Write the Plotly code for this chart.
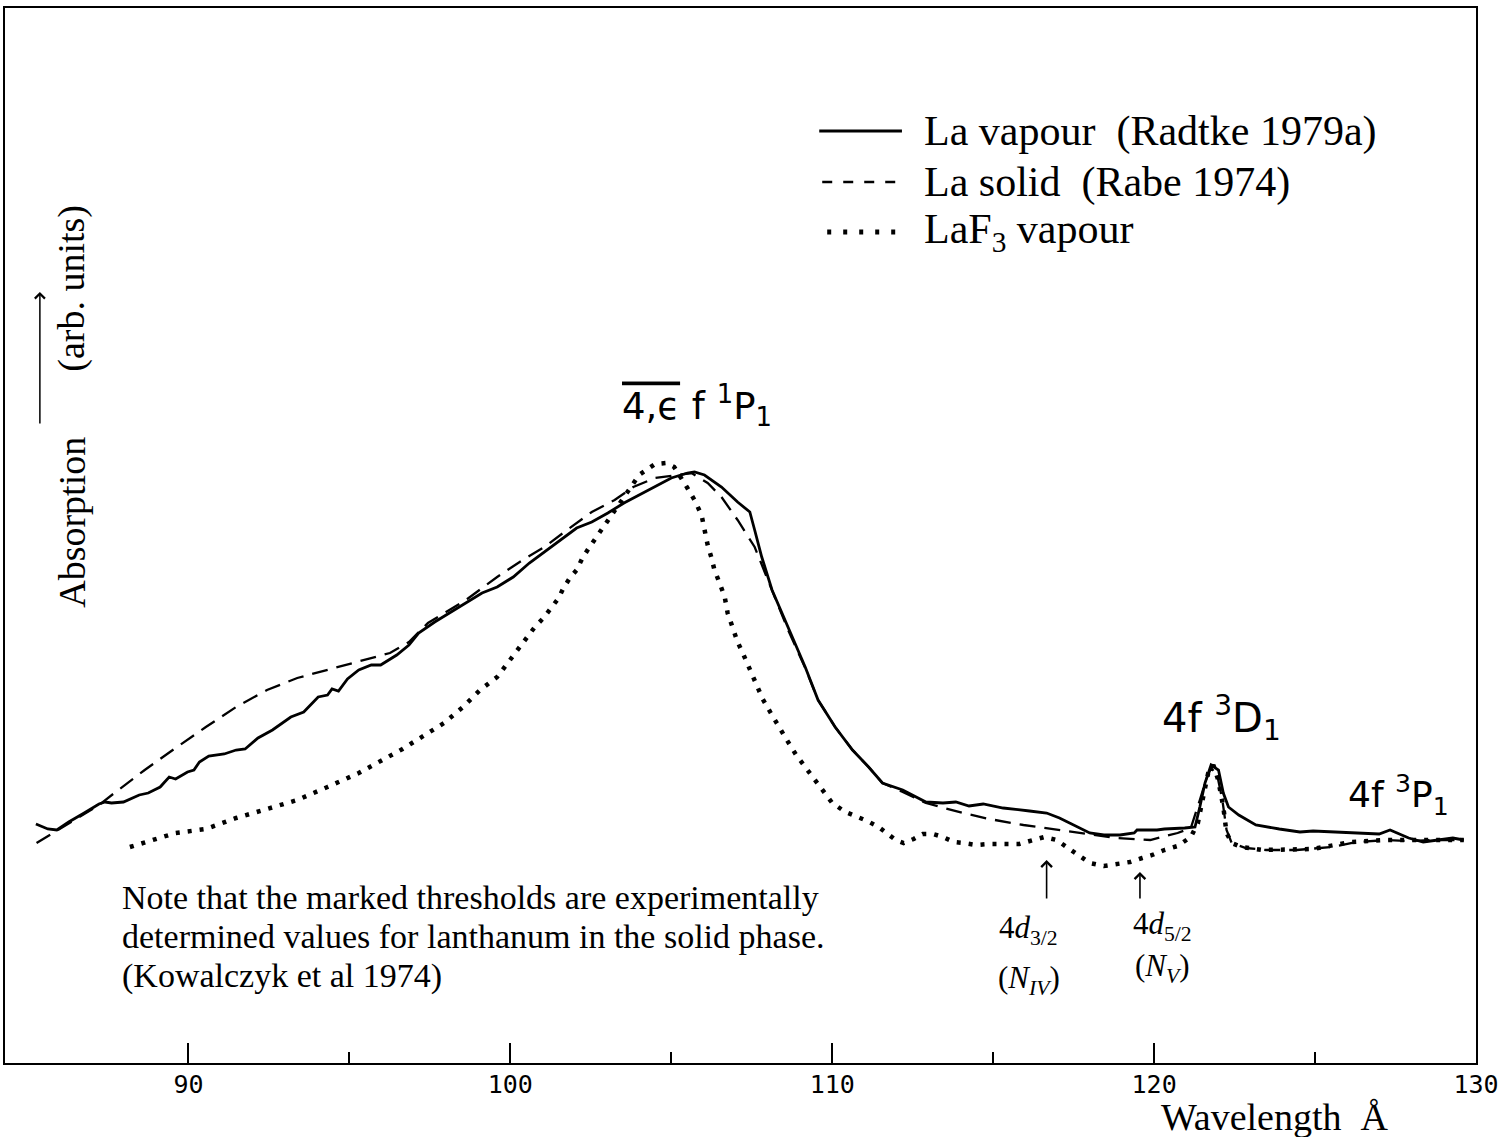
import plotly.graph_objects as go

# ---- La vapour (Radtke 1979a): wavelength (Å) and absorption (arb. units)
lam_vapour = [85.26, 85.63, 85.91, 86.28, 86.76, 87.22, 87.41, 87.61, 87.98, 88.47, 88.75, 89.12,
              89.40, 89.60, 89.97, 90.17, 90.34, 90.63, 91.11, 91.48, 91.76, 92.16, 92.61, 93.18,
              93.58, 94.03, 94.32, 94.46, 94.66, 94.94, 95.29, 95.68, 95.97, 96.47, 96.85, 97.15,
              97.65, 98.12, 98.62, 99.12, 99.59, 100.09, 100.59, 101.06, 101.56, 102.06, 102.53,
              103.03, 103.53, 104.00, 104.50, 105.00, 105.50, 105.72, 106.03, 106.56, 107.06,
              107.44, 107.59, 107.81, 108.13, 108.63, 109.16, 109.56, 110.09, 110.63, 111.13,
              111.56, 112.19, 112.91, 113.44, 113.84, 114.25, 114.69, 115.31, 116.13, 116.66,
              117.06, 117.59, 118.00, 118.44, 118.94, 119.38, 119.47, 120.09, 120.32, 120.95,
              121.27, 121.42, 121.58, 121.77, 122.00, 122.15, 122.31, 122.63, 123.16, 123.89,
              124.53, 124.94, 125.75, 126.44, 126.99, 127.33, 127.57, 127.91, 128.36, 128.84,
              129.28, 129.62]
abs_vapour = [23.9, 23.4, 23.3, 24.1, 25.0, 25.9, 26.1, 26.0, 26.1, 26.8, 27.0, 27.6,
              28.6, 28.4, 29.1, 29.3, 30.1, 30.7, 30.9, 31.3, 31.4, 32.5, 33.3, 34.6,
              35.1, 36.6, 36.8, 37.4, 37.2, 38.4, 39.3, 39.8, 39.8, 40.8, 41.8, 43.0,
              44.1, 45.0, 46.0, 47.0, 47.6, 48.6, 50.0, 51.1, 52.3, 53.5, 54.1,
              55.0, 56.0, 56.8, 57.6, 58.5, 59.0, 59.1, 58.8, 57.6, 56.1,
              55.1, 53.3, 50.6, 47.3, 43.6, 39.6, 36.3, 33.6, 31.3, 29.6,
              28.0, 27.3, 26.1, 26.0, 26.1, 25.7, 25.9, 25.5, 25.2, 25.0,
              24.5, 23.7, 23.0, 22.8, 22.8, 23.0, 23.3, 23.3, 23.4, 23.5,
              23.6, 25.6, 28.0, 29.8, 29.3, 27.0, 25.6, 24.8, 23.8, 23.4,
              23.1, 23.2, 23.1, 23.0, 22.9, 23.3, 23.0, 22.5, 22.1, 22.3,
              22.5, 22.3]

# ---- La solid (Rabe 1974)
lam_solid = [85.28, 85.80, 87.22, 87.70, 88.64, 89.60, 90.54, 91.48, 92.44, 93.38, 94.32, 95.29,
             96.26, 96.85, 97.44, 98.62, 99.59, 100.38, 101.06, 101.76, 102.53, 103.24, 103.82,
             104.50, 105.09, 105.63, 106.13, 106.56, 107.06, 107.59, 108.00, 108.63, 109.16,
             109.56, 110.09, 110.63, 111.13, 111.56, 112.19, 112.91, 114.06, 114.88, 115.94,
             116.97, 117.91, 118.84, 119.88, 120.73, 121.14, 121.42, 121.61, 121.77, 121.96,
             122.12, 122.25, 122.41, 122.85, 123.48, 124.43, 125.51, 126.30, 127.23, 127.91,
             128.70, 129.62]
abs_solid = [22.0, 23.0, 25.8, 27.0, 29.3, 31.5, 33.6, 35.6, 37.3, 38.5, 39.3, 40.1,
             41.0, 42.1, 44.0, 46.3, 48.6, 50.3, 51.6, 53.3, 55.1, 56.3, 57.6,
             58.5, 58.8, 59.0, 58.0, 56.6, 54.3, 51.6, 48.3, 43.3, 39.5,
             36.3, 33.6, 31.3, 29.6, 28.0, 27.1, 26.0, 25.0, 24.4, 23.8,
             23.3, 22.9, 22.5, 22.3, 23.0, 23.5, 26.3, 28.3, 29.5, 28.8,
             26.3, 23.3, 22.0, 21.5, 21.3, 21.3, 21.6, 22.1, 22.3, 22.2,
             22.3, 22.3]

# ---- LaF3 vapour
lam_laf3 = [88.18, 89.60, 90.54, 91.48, 92.44, 93.38, 94.32, 95.29, 96.65, 97.24, 97.94, 98.53,
            99.06, 99.59, 100.00, 100.38, 100.76, 101.03, 101.26, 101.50, 101.65, 101.85, 102.06,
            102.24, 102.44, 102.68, 102.94, 103.47, 104.00, 104.29, 104.50, 104.85, 105.09,
            105.50, 105.72, 105.94, 106.03, 106.13, 106.25, 106.34, 106.50, 106.66, 106.75,
            106.91, 107.06, 107.22, 107.44, 107.66, 107.84, 108.09, 108.34, 108.59, 108.88,
            109.16, 109.41, 109.72, 110.00, 110.41, 110.78, 111.09, 111.44, 111.75, 111.97,
            112.22, 112.53, 112.81, 113.13, 113.44, 113.78, 114.09, 114.47, 114.88, 115.31,
            115.81, 116.25, 116.59, 116.97, 117.28, 117.59, 118.00, 118.44, 118.84, 119.25,
            119.63, 119.94, 120.32, 120.73, 121.14, 121.36, 121.46, 121.58, 121.68, 121.84,
            121.99, 122.15, 122.25, 122.41, 122.72, 123.35, 123.89, 124.94, 126.10, 127.23,
            128.60, 129.62]
abs_laf3 = [21.6, 23.0, 23.4, 24.5, 25.4, 26.3, 27.6, 29.0, 31.4, 32.6, 34.0, 35.6,
            37.3, 38.6, 40.3, 42.0, 43.6, 44.5, 45.5, 46.5, 47.5, 48.5, 49.3,
            50.5, 51.5, 52.6, 53.7, 56.3, 58.8, 59.5, 59.9, 60.0, 59.6,
            57.5, 56.3, 54.8, 53.3, 51.8, 50.5, 49.3, 48.0, 46.6, 45.0,
            43.5, 42.1, 41.0, 39.3, 37.8, 36.4, 35.0, 33.6, 32.3, 30.8,
            29.6, 28.4, 27.1, 26.0, 25.1, 24.6, 24.2, 23.6, 22.9, 22.3,
            22.0, 22.4, 22.9, 22.9, 22.6, 22.1, 22.0, 21.8, 21.9, 21.9,
            21.9, 22.3, 22.6, 22.3, 21.6, 20.8, 20.0, 19.7, 19.9, 20.1,
            20.5, 20.8, 21.3, 21.7, 22.6, 24.0, 25.6, 27.3, 29.0, 29.8,
            28.3, 25.6, 23.0, 22.0, 21.6, 21.3, 21.3, 21.4, 22.1, 22.3,
            22.3, 22.3]

# ---- axis ticks
major_ticks = [90, 100, 110, 120, 130]
minor_ticks = [95, 105, 115, 125]

# ---- thresholds (Å) and the absorption level the arrows point to
thresholds_lam = [116.66, 119.56]
thresholds_abs = [20.3, 19.1]

SERIF = "Liberation Serif"
LETTER = "DejaVu Sans"

fig = go.Figure()
fig.add_trace(go.Scatter(x=lam_vapour, y=abs_vapour, mode="lines",
                         line=dict(color="black", width=2.8), name="La vapour"))
fig.add_trace(go.Scatter(x=lam_solid, y=abs_solid, mode="lines",
                         line=dict(color="black", width=2.3, dash="16px,9px"), name="La solid"))
fig.add_trace(go.Scatter(x=lam_laf3, y=abs_laf3, mode="lines",
                         line=dict(color="black", width=4.5, dash="4px,8px"), name="LaF3 vapour"))

W, H = 1504, 1137
ML, MR, MT, MB = 5, 23, 8, 74
PW, PH = W - ML - MR, H - MT - MB


def px(x):
    return (x - ML) / PW


def py(y):
    return (H - MB - y) / PH


shapes = []
annotations = []

# legend samples and entries
leg_rows = [(131, "solid", 2.8, "La vapour  (Radtke 1979a)", 822),
            (182, "10px,11px", 2.3, "La solid  (Rabe 1974)", 825),
            (232, "4px,12px", 5, "LaF<sub>3</sub> vapour", 830)]
for yy, dash, w, label, x0 in leg_rows:
    shapes.append(dict(type="line", xref="paper", yref="paper", x0=px(x0), x1=px(905),
                       y0=py(yy), y1=py(yy), line=dict(color="black", width=w, dash=dash)))
    annotations.append(dict(xref="paper", yref="paper", x=px(925), y=py(yy), text=label,
                            showarrow=False, xanchor="left", yanchor="middle",
                            font=dict(family=SERIF, size=42, color="black")))

# y-axis caption with arrow
annotations.append(dict(xref="paper", yref="paper", x=px(72), y=py(522), text="Absorption",
                        textangle=-90, showarrow=False, xanchor="center", yanchor="middle",
                        font=dict(family=SERIF, size=38, color="black")))
annotations.append(dict(xref="paper", yref="paper", x=px(72), y=py(288), text="(arb. units)",
                        textangle=-90, showarrow=False, xanchor="center", yanchor="middle",
                        font=dict(family=SERIF, size=38, color="black")))
annotations.append(dict(xref="paper", yref="paper", x=px(40), y=py(292), ax=0, ay=133,
                        text="", showarrow=True, arrowhead=4, arrowsize=1.3, arrowwidth=1.5,
                        arrowcolor="black"))

# x-axis caption
annotations.append(dict(xref="paper", yref="paper", x=px(1279), y=py(1117),
                        text="Wavelength  Å", showarrow=False, xanchor="center",
                        yanchor="middle", font=dict(family=SERIF, size=38, color="black")))

# note
note_lines = ["Note that the marked thresholds are experimentally",
              "determined values for lanthanum in the solid phase.",
              "(Kowalczyk et al 1974)"]
for i, t in enumerate(note_lines):
    annotations.append(dict(xref="paper", yref="paper", x=px(120), y=py(897 + 39.5 * i),
                            text=t, showarrow=False, xanchor="left", yanchor="middle",
                            font=dict(family=SERIF, size=34, color="black")))

# resonance labels
annotations.append(dict(x=105.8, y=65.8, xref="x", yref="y",
                        text="<span style='text-decoration:overline'>4,ϵ</span> f <sup>1</sup>P<sub>1</sub>",
                        showarrow=False, font=dict(family=LETTER, size=37, color="black")))
annotations.append(dict(x=122.1, y=34.5, xref="x", yref="y", text="4f <sup>3</sup>D<sub>1</sub>",
                        showarrow=False, font=dict(family=LETTER, size=40, color="black")))
annotations.append(dict(x=127.6, y=26.8, xref="x", yref="y", text="4f <sup>3</sup>P<sub>1</sub>",
                        showarrow=False, font=dict(family=LETTER, size=36, color="black")))

# threshold arrows and labels
thr_labels = [("4<i>d</i><sub>3/2</sub>", "(<i>N</i><sub><i>IV</i></sub>)", -18, 40, 13.3, 8.3),
              ("4<i>d</i><sub>5/2</sub>", "(<i>N</i><sub><i>V</i></sub>)", 23, 28, 13.7, 9.5)]
for lam, a, (l1, l2, dx, ay, y1, y2) in zip(thresholds_lam, thresholds_abs, thr_labels):
    annotations.append(dict(x=lam, y=a, xref="x", yref="y", ax=0, ay=ay, text="",
                            showarrow=True, arrowhead=4, arrowsize=1.3, arrowwidth=1.6,
                            arrowcolor="black"))
    annotations.append(dict(x=lam, y=y1, xref="x", yref="y", xshift=dx, text=l1,
                            showarrow=False, font=dict(family=SERIF, size=31, color="black")))
    annotations.append(dict(x=lam, y=y2, xref="x", yref="y", xshift=dx, text=l2,
                            showarrow=False, font=dict(family=SERIF, size=31, color="black")))

fig.update_layout(
    width=W, height=H,
    margin=dict(l=ML, r=MR, t=MT, b=MB),
    paper_bgcolor="white", plot_bgcolor="white",
    showlegend=False,
    shapes=shapes, annotations=annotations,
    xaxis=dict(range=[84.3, 130], showgrid=False, zeroline=False,
               showline=True, mirror=True, linecolor="black", linewidth=2,
               ticks="inside", ticklen=20, tickwidth=1.6, tickcolor="black",
               tickmode="array", tickvals=major_ticks,
               ticktext=[str(v) for v in major_ticks],
               ticklabelstandoff=-2,
               tickfont=dict(family="DejaVu Sans Mono", size=25, color="black"),
               minor=dict(tickmode="array", tickvals=minor_ticks, ticks="inside",
                          ticklen=11, tickwidth=1.6, tickcolor="black")),
    yaxis=dict(range=[0, 105.5], showgrid=False, zeroline=False, showticklabels=False,
               showline=True, mirror=True, linecolor="black", linewidth=2, ticks=""),
)

fig.write_html("out.html")
